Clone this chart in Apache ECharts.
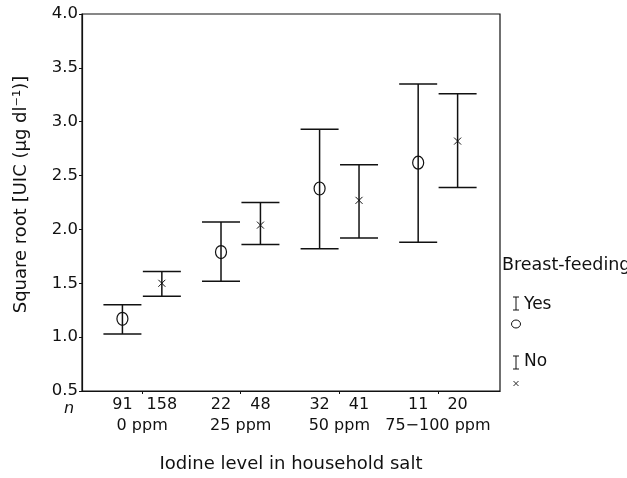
<!DOCTYPE html>
<html>
<head>
<meta charset="utf-8">
<script src="https://cdn.jsdelivr.net/npm/echarts@6/dist/echarts.min.js"></script>
<style>
html,body{margin:0;padding:0;background:#fff;}
#chart{width:627px;height:478px;}
</style>
</head>
<body>
<div id="chart"></div>
<script>
// ---- data ----
const groups = ['0 ppm', '25 ppm', '50 ppm', '75\u2212100 ppm'];
const nYes = [91, 22, 32, 11];
const nNo = [158, 48, 41, 20];
const meanYes = [1.17, 1.79, 2.38, 2.62];
const lowYes = [1.03, 1.52, 1.82, 1.88];
const highYes = [1.30, 2.07, 2.93, 3.35];
const meanNo = [1.50, 2.04, 2.27, 2.82];
const lowNo = [1.38, 1.86, 1.92, 2.39];
const highNo = [1.61, 2.25, 2.60, 3.26];

const OFF = 0.2; // offset of each subgroup from group centre (x units)
const FONT = '"DejaVu Sans", Verdana, sans-serif';

const groupPos = groups.map((g, i) => i + 1);
const nPositions = [];
const nLabels = {};
groupPos.forEach((p, i) => {
  nPositions.push(p - OFF, p + OFF);
  nLabels[(p - OFF).toFixed(2)] = String(nYes[i]);
  nLabels[(p + OFF).toFixed(2)] = String(nNo[i]);
});

const yesData = groupPos.map((p, i) => [p - OFF, lowYes[i], highYes[i], meanYes[i]]);
const noData = groupPos.map((p, i) => [p + OFF, lowNo[i], highNo[i], meanNo[i]]);

function makeRender(kind) {
  return function (params, api) {
    const x = api.value(0);
    const lo = api.coord([x, api.value(1)]);
    const hi = api.coord([x, api.value(2)]);
    const mid = api.coord([x, api.value(3)]);
    const hw = 19;
    const st = { stroke: '#111', lineWidth: 1.5, fill: null };
    const children = [
      { type: 'line', shape: { x1: lo[0], y1: lo[1], x2: hi[0], y2: hi[1] }, style: st },
      { type: 'line', shape: { x1: hi[0] - hw, y1: hi[1], x2: hi[0] + hw, y2: hi[1] }, style: st },
      { type: 'line', shape: { x1: lo[0] - hw, y1: lo[1], x2: lo[0] + hw, y2: lo[1] }, style: st }
    ];
    if (kind === 'yes') {
      children.push({ type: 'ellipse', shape: { cx: mid[0], cy: mid[1], rx: 5.5, ry: 6.5 },
        style: { stroke: '#111', lineWidth: 1.2, fill: null } });
    } else {
      const d = 3.5;
      children.push({ type: 'line', shape: { x1: mid[0] - d, y1: mid[1] - d, x2: mid[0] + d, y2: mid[1] + d }, style: { stroke: '#111', lineWidth: 1 } });
      children.push({ type: 'line', shape: { x1: mid[0] - d, y1: mid[1] + d, x2: mid[0] + d, y2: mid[1] - d }, style: { stroke: '#111', lineWidth: 1 } });
    }
    return { type: 'group', children: children };
  };
}

const chart = echarts.init(document.getElementById('chart'), null, { renderer: 'canvas' });
const option = {
  backgroundColor: '#fff',
  animation: false,
  textStyle: { fontFamily: FONT },
  grid: { left: 82, right: 127, top: 14, bottom: 83, show: true, borderColor: '#111', borderWidth: 1.2, backgroundColor: 'transparent' },
  xAxis: [
    {
      type: 'value', min: 0.39, max: 4.63, position: 'bottom',
      axisLine: { show: true, onZero: false, lineStyle: { color: '#111', width: 1.2 } },
      axisTick: { show: true, length: 3, customValues: groupPos, lineStyle: { color: '#111' } },
      axisLabel: {
        customValues: nPositions, margin: 6, color: '#111', fontSize: 16, fontFamily: FONT,
        formatter: v => nLabels[Number(v).toFixed(2)] || ''
      },
      splitLine: { show: false }
    },
    {
      type: 'value', min: 0.39, max: 4.63, position: 'bottom', offset: 21,
      axisLine: { show: false }, axisTick: { show: false },
      axisLabel: {
        customValues: groupPos, margin: 6, color: '#111', fontSize: 16, fontFamily: FONT,
        formatter: v => groups[Math.round(v) - 1] || ''
      },
      splitLine: { show: false },
      name: 'Iodine level in household salt', nameLocation: 'middle', nameGap: 43,
      nameTextStyle: { color: '#111', fontSize: 18, fontFamily: FONT }
    }
  ],
  yAxis: {
    type: 'value', min: 0.5, max: 4.0, interval: 0.5,
    axisLine: { show: true, lineStyle: { color: '#111', width: 1.2 } },
    axisTick: { show: true, length: 3, lineStyle: { color: '#111' } },
    axisLabel: { color: '#111', fontSize: 16.5, margin: 4, fontFamily: FONT, formatter: v => Number(v).toFixed(1) },
    splitLine: { show: false },
    name: 'Square root [UIC (\u03bcg dl\u207b\u00b9)]', nameLocation: 'middle', nameGap: 52,
    nameTextStyle: { color: '#111', fontSize: 18, fontFamily: FONT, padding: [0, 0, 0, 16] }
  },
  series: [
    { name: 'Yes', type: 'custom', xAxisIndex: 0, renderItem: makeRender('yes'), data: yesData, encode: { x: 0, y: [1, 2, 3] }, clip: false },
    { name: 'No', type: 'custom', xAxisIndex: 0, renderItem: makeRender('no'), data: noData, encode: { x: 0, y: [1, 2, 3] }, clip: false }
  ],
  graphic: [
    { type: 'text', x: 64, y: 409, style: { text: 'n', font: 'italic 16px ' + FONT, fill: '#111', verticalAlign: 'middle' } },
    { type: 'text', x: 502, y: 265, style: { text: 'Breast-feeding', font: '17.5px ' + FONT, fill: '#111', verticalAlign: 'middle' } },
    // legend "Yes"
    { type: 'line', shape: { x1: 516, y1: 297, x2: 516, y2: 310 }, style: { stroke: '#111', lineWidth: 1 } },
    { type: 'line', shape: { x1: 513, y1: 297, x2: 519, y2: 297 }, style: { stroke: '#111', lineWidth: 1 } },
    { type: 'line', shape: { x1: 513, y1: 310, x2: 519, y2: 310 }, style: { stroke: '#111', lineWidth: 1 } },
    { type: 'ellipse', shape: { cx: 516, cy: 324, rx: 4.5, ry: 4 }, style: { stroke: '#111', lineWidth: 1, fill: null } },
    { type: 'text', x: 524, y: 305, style: { text: 'Yes', font: '17px ' + FONT, fill: '#111', verticalAlign: 'middle' } },
    // legend "No"
    { type: 'line', shape: { x1: 516, y1: 356, x2: 516, y2: 369 }, style: { stroke: '#111', lineWidth: 1 } },
    { type: 'line', shape: { x1: 513, y1: 356, x2: 519, y2: 356 }, style: { stroke: '#111', lineWidth: 1 } },
    { type: 'line', shape: { x1: 513, y1: 369, x2: 519, y2: 369 }, style: { stroke: '#111', lineWidth: 1 } },
    { type: 'line', shape: { x1: 513.5, y1: 381, x2: 518.5, y2: 386 }, style: { stroke: '#111', lineWidth: 0.9 } },
    { type: 'line', shape: { x1: 513.5, y1: 386, x2: 518.5, y2: 381 }, style: { stroke: '#111', lineWidth: 0.9 } },
    { type: 'text', x: 524, y: 362, style: { text: 'No', font: '17px ' + FONT, fill: '#111', verticalAlign: 'middle' } }
  ]
};
chart.setOption(option);
</script>
</body>
</html>
